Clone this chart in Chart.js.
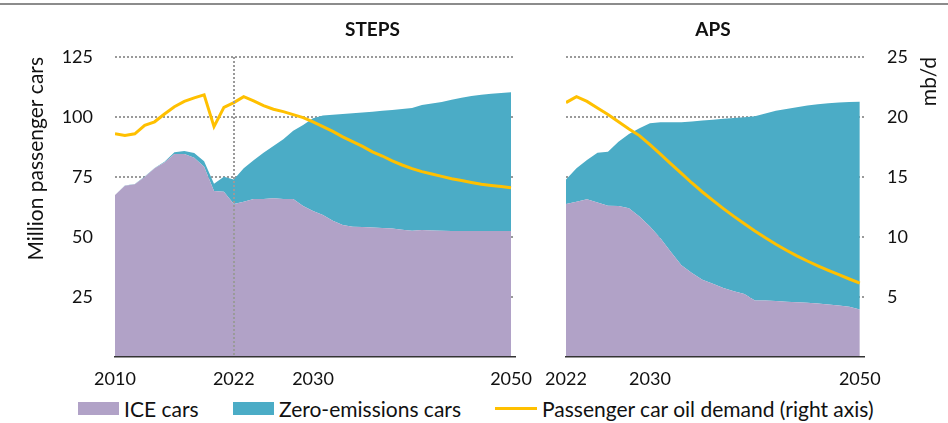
<!DOCTYPE html>
<html><head><meta charset="utf-8">
<script src="https://cdn.jsdelivr.net/npm/chart.js@4.4.1/dist/chart.umd.min.js"></script>
<style>
html,body{margin:0;padding:0;background:#fff;}
#wrap{position:relative;width:948px;height:423px;overflow:hidden;font-family:Lato,sans-serif;}
#topline{position:absolute;left:0;top:3px;width:948px;height:2px;background:#8c8c8c;}
#c1{position:absolute;left:0;top:0;}
#c2{position:absolute;left:540px;top:0;}
#legend{position:absolute;left:0;top:396px;width:948px;height:24px;font-size:21px;color:#111;}
.item{position:absolute;top:0;height:24px;display:flex;align-items:center;white-space:nowrap;}
.sw{width:41px;height:13px;margin-right:5px;}
.ln{width:42px;height:3px;margin-right:5px;}
</style></head>
<body><div id="wrap">
<div id="topline"></div>
<canvas id="c1" width="540" height="395"></canvas>
<canvas id="c2" width="408" height="395"></canvas>
<div id="legend"></div>
</div>
<script>
const seriesNames = ['ICE cars', 'Zero-emissions cars', 'Passenger car oil demand (right axis)'];
const seriesColors = ['#b1a2c7', '#4bacc6', '#ffc000'];

const stepsYears = [2010,2011,2012,2013,2014,2015,2016,2017,2018,2019,2020,2021,2022,2023,2024,2025,2026,2027,2028,2029,2030,2031,2032,2033,2034,2035,2036,2037,2038,2039,2040,2041,2042,2043,2044,2045,2046,2047,2048,2049,2050];
const stepsIce = [67.5,71.4,72.0,75.0,78.6,81.0,84.6,84.6,83.0,79.3,69.2,68.9,63.8,64.7,65.8,65.8,66.1,65.8,65.8,62.9,60.8,59.2,56.8,55.0,54.3,54.2,54.0,53.8,53.5,53.0,52.6,52.9,52.7,52.6,52.5,52.5,52.5,52.5,52.5,52.5,52.5];
const stepsZev = [0,0.1,0.1,0.2,0.2,0.4,0.7,1.2,2.0,2.3,3.0,6.2,10.2,13.9,16.2,19.3,21.8,24.9,28.5,33.8,38.7,41.4,44.1,46.2,47.3,47.7,48.2,48.8,49.4,50.3,51.1,52.1,52.9,53.7,54.7,55.5,56.2,56.8,57.2,57.5,57.8];
const stepsOil = [18.6,18.45,18.6,19.3,19.6,20.25,20.85,21.3,21.6,21.85,19.2,20.8,21.2,21.7,21.35,20.95,20.65,20.45,20.2,19.95,19.6,19.2,18.8,18.35,17.95,17.55,17.1,16.75,16.35,16.0,15.7,15.45,15.25,15.05,14.85,14.7,14.55,14.4,14.3,14.2,14.1];

const apsYears = [2022,2023,2024,2025,2026,2027,2028,2029,2030,2031,2032,2033,2034,2035,2036,2037,2038,2039,2040,2041,2042,2043,2044,2045,2046,2047,2048,2049,2050];
const apsIce = [63.8,64.7,65.7,64.4,63.0,62.9,62.0,58.5,54.4,49.5,43.8,38.2,35.0,32.2,30.5,28.8,27.4,26.3,23.5,23.5,23.3,23.0,22.8,22.6,22.3,21.9,21.5,20.9,19.8];
const apsZev = [10.2,13.9,16.4,20.7,22.5,26.8,30.9,36.8,43.0,48.3,54.0,59.6,63.1,66.3,68.4,70.5,72.2,73.6,76.8,78.0,79.3,80.3,81.3,82.2,83.0,83.8,84.5,85.4,86.6];
const apsOil = [21.2,21.7,21.3,20.75,20.2,19.6,19.0,18.45,17.7,16.9,16.1,15.3,14.5,13.75,13.05,12.37,11.72,11.1,10.5,9.93,9.4,8.9,8.43,8.0,7.6,7.22,6.86,6.5,6.15];

const stepsTicks = [2010, 2022, 2030, 2050];
const apsTicks = [2022, 2030, 2050];
const leftAxisTitle = 'Million passenger cars';
const rightAxisTitle = 'mb/d';
const panelTitles = ['STEPS', 'APS'];

Chart.defaults.font.family = 'Lato, sans-serif';
Chart.defaults.font.size = 18;
Chart.defaults.color = '#111';

const GRID = '#9a9a9a';

function pts(years, vals) { return years.map((y, i) => ({x: y, y: vals[i]})); }

function textPlugin(title, axisTitle, axisX) {
  return {
    id: 'txt',
    afterDraw(chart) {
      const {ctx, chartArea, scales} = chart;
      const xs = scales.x;
      ctx.save();
      ctx.fillStyle = '#111';
      ctx.font = 'bold 19px Lato, sans-serif';
      ctx.textAlign = 'center';
      ctx.textBaseline = 'middle';
      const cx = (xs.getPixelForValue(2022) + xs.getPixelForValue(2050)) / 2;
      ctx.fillText(title, cx, 30);
      ctx.font = '21px Lato, sans-serif';
      ctx.translate(axisX, chartArea.top);
      ctx.rotate(-Math.PI / 2);
      ctx.textAlign = 'right';
      ctx.fillText(axisTitle, 0, 0);
      ctx.restore();
    }
  };
}

function makeChart(canvas, years, ice, zev, oil, ticks, isLeft) {
  const datasets = [
    {label: seriesNames[2], data: pts(years, oil), yAxisID: 'y1', borderColor: seriesColors[2], backgroundColor: seriesColors[2], borderWidth: 3, pointRadius: 0, tension: 0, fill: false},
    {label: seriesNames[0], data: pts(years, ice), yAxisID: 'y', borderWidth: 0, borderColor: seriesColors[0], backgroundColor: seriesColors[0], pointRadius: 0, tension: 0, fill: 'origin'},
    {label: seriesNames[1], data: pts(years, zev), yAxisID: 'y', borderWidth: 0, borderColor: seriesColors[1], backgroundColor: seriesColors[1], pointRadius: 0, tension: 0, fill: '-1'}
  ];
  const dropZero = s => { s.ticks = s.ticks.filter(t => t.value > 0); };
  const xScale = {
    type: 'linear', min: years[0], max: 2050.4,
    afterBuildTicks: s => { s.ticks = ticks.map(v => ({value: v})); },
    afterFit: s => { s.height = 38; s.paddingLeft = 0; s.paddingRight = 0; },
    ticks: {callback: v => String(v), padding: 11, maxRotation: 0, autoSkip: false, color: '#111'},
    grid: {display: isLeft, drawTicks: false, lineWidth: 2, z: 1,
      color: c => (c.tick && c.tick.value === 2022) ? GRID : 'rgba(0,0,0,0)'},
    border: {display: true, color: '#333', width: 1.5, z: 1, dash: [2, 2]}
  };
  const carsScale = {
    type: 'linear', position: 'left', min: 0, max: 125, stacked: true, display: isLeft,
    afterBuildTicks: dropZero,
    afterFit: s => { s.width = isLeft ? 115 : 0; s.paddingTop = 0; s.paddingBottom = 0; },
    ticks: {stepSize: 25, padding: 22, color: '#111'},
    grid: {drawTicks: false, lineWidth: 2, color: GRID},
    border: {display: false, dash: [2, 2]}
  };
  const oilScale = {
    type: 'linear', position: 'right', min: 0, max: 25, display: !isLeft,
    afterBuildTicks: dropZero,
    afterFit: s => { s.width = isLeft ? 0 : 84; s.paddingTop = 0; s.paddingBottom = 0; },
    ticks: {stepSize: 5, padding: 23, color: '#111'},
    grid: {drawTicks: false, lineWidth: 2, color: GRID},
    border: {display: false, dash: [2, 2]}
  };
  return new Chart(canvas, {
    type: 'line',
    data: {datasets},
    options: {
      responsive: false, animation: false, devicePixelRatio: 1,
      layout: {padding: isLeft ? {top: 57, right: 25, left: 0, bottom: 0} : {top: 57, right: 0, left: 26, bottom: 0}},
      plugins: {legend: {display: false}, tooltip: {enabled: false}},
      scales: {x: xScale, y: carsScale, y1: oilScale}
    },
    plugins: [isLeft ? textPlugin(panelTitles[0], leftAxisTitle, 36) : textPlugin(panelTitles[1], rightAxisTitle, 389)]
  });
}

makeChart(document.getElementById('c1'), stepsYears, stepsIce, stepsZev, stepsOil, stepsTicks, true);
makeChart(document.getElementById('c2'), apsYears, apsIce, apsZev, apsOil, apsTicks, false);

// legend
const legend = document.getElementById('legend');
const legendLeft = [78, 233, 495];
seriesNames.forEach((n, i) => {
  const it = document.createElement('div');
  it.className = 'item';
  it.style.left = legendLeft[i] + 'px';
  const sw = document.createElement('span');
  sw.className = i === 2 ? 'ln' : 'sw';
  sw.style.background = seriesColors[i];
  const tx = document.createElement('span');
  tx.textContent = n;
  it.appendChild(sw); it.appendChild(tx);
  legend.appendChild(it);
});
</script>
</body></html>
